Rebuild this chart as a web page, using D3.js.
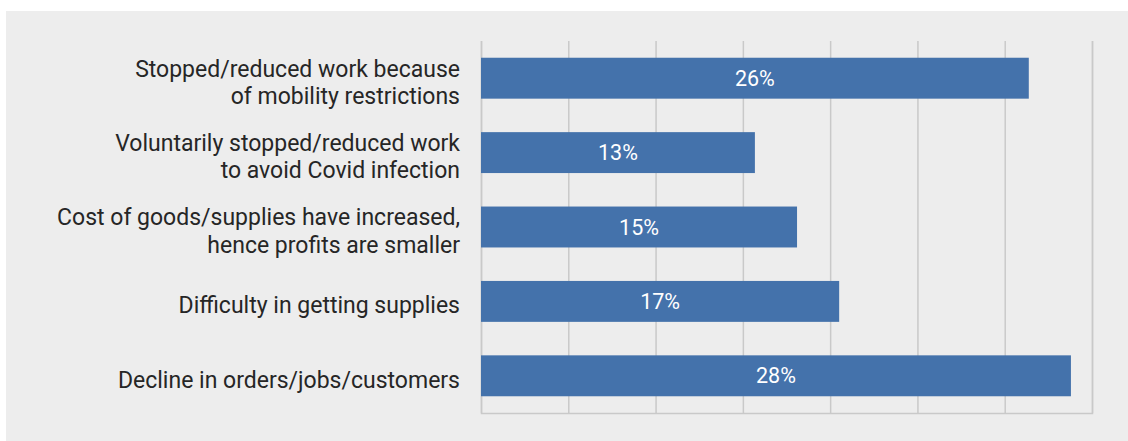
<!DOCTYPE html>
<html>
<head>
<meta charset="utf-8">
<script src="https://cdn.jsdelivr.net/npm/d3@7"></script>
<style>
  html, body { margin: 0; padding: 0; background: #ffffff; }
  svg { display: block; }
</style>
</head>
<body>
<svg id="chart" width="1128" height="441"></svg>
<script>
// Reasons for reduced business activity (share of respondents, %)
const categories = [
  ["Stopped/reduced work because", "of mobility restrictions"],
  ["Voluntarily stopped/reduced work", "to avoid Covid infection"],
  ["Cost of goods/supplies have increased,", "hence profits are smaller"],
  ["Difficulty in getting supplies"],
  ["Decline in orders/jobs/customers"]
];
const values = [26, 13, 15, 17, 28];
const xMax = 29.0;          // axis extent in percent
const gridCount = 7;        // number of gridline intervals

const W = 1128, H = 441;
const margin = { left: 481, right: 36, top: 41, bottom: 28 };
const svg = d3.select("#chart");

// panel background
svg.append("rect")
  .attr("x", 6).attr("y", 11)
  .attr("width", W - 6).attr("height", H - 11)
  .attr("fill", "#ededed");

const x = d3.scaleLinear()
  .domain([0, xMax])
  .range([margin.left, W - margin.right]);

const y = d3.scaleBand()
  .domain(d3.range(categories.length))
  .range([margin.top, H - margin.bottom])
  .paddingInner(0.45)
  .paddingOuter(0.225);

// vertical gridlines
const gridTicks = d3.range(gridCount + 1).map(i => i * xMax / gridCount);
const gridAxis = d3.axisBottom(x)
  .tickValues(gridTicks)
  .tickSize(-(H - margin.bottom - margin.top))
  .tickFormat("");
const g = svg.append("g")
  .attr("transform", `translate(0,${H - margin.bottom})`)
  .call(gridAxis);
g.select(".domain").attr("stroke", "#c9c9c9").attr("stroke-width", 1.5);
g.selectAll(".tick line").attr("stroke", "#c9c9c9").attr("stroke-width", 1.5);

// bars
svg.append("g").selectAll("rect")
  .data(values)
  .join("rect")
  .attr("x", x(0))
  .attr("y", (d, i) => y(i))
  .attr("width", d => x(d) - x(0))
  .attr("height", y.bandwidth())
  .attr("fill", "#4472ab");

// value labels
svg.append("g").selectAll("text")
  .data(values)
  .join("text")
  .attr("x", d => (x(0) + x(d)) / 2)
  .attr("y", (d, i) => y(i) + y.bandwidth() / 2)
  .attr("dy", "0.35em")
  .attr("text-anchor", "middle")
  .attr("font-family", "Roboto, sans-serif")
  .attr("font-size", 21.5)
  .attr("fill", "#ffffff")
  .text(d => d + "%");

// category labels
const lineH = 27.5;
const labels = svg.append("g").selectAll("text")
  .data(categories)
  .join("text")
  .attr("text-anchor", "end")
  .attr("font-family", "Roboto, sans-serif")
  .attr("font-size", 23)
  .attr("fill", "#262626")
  .attr("transform", (d, i) => {
    const cy = y(i) + y.bandwidth() / 2 + 4;
    const top = cy - (d.length - 1) * lineH / 2;
    return `translate(${x(0) - 21},${top})`;
  });
labels.selectAll("tspan")
  .data(d => d)
  .join("tspan")
  .attr("x", 0)
  .attr("y", (d, j) => j * lineH)
  .attr("dy", "0.35em")
  .text(d => d);
</script>
</body>
</html>
